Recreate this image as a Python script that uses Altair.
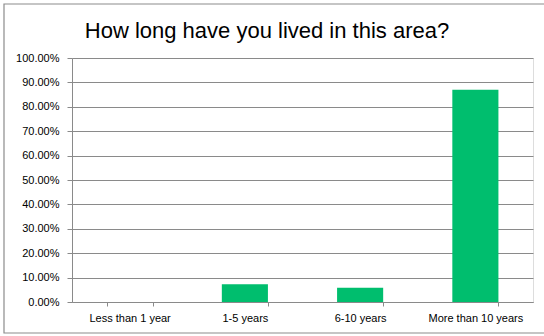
import altair as alt
import pandas as pd

categories = ["Less than 1 year", "1-5 years", "6-10 years", "More than 10 years"]
shares = [0.0, 0.0725, 0.058, 0.8696]
y_ticks = [0.0, 0.1, 0.2, 0.3, 0.4, 0.5, 0.6, 0.7, 0.8, 0.9, 1.0]
title_text = "How long have you lived in this area?"

df = pd.DataFrame({"category": categories, "share": shares})

FONT = "Liberation Sans"
GRID = "#8a8a8a"

bars = alt.Chart(df).mark_bar(color="#00BE6E").encode(
    x=alt.X(
        "category:N",
        sort=categories,
        title=None,
        scale=alt.Scale(paddingInner=0.6, paddingOuter=0.3),
        axis=alt.Axis(
            labelAngle=0,
            labelFont=FONT,
            labelFontSize=11,
            labelColor="#000000",
            labelPadding=6,
            tickBand="extent",
            tickSize=4,
            tickColor=GRID,
            domainColor=GRID,
            grid=False,
        ),
    ),
    y=alt.Y(
        "share:Q",
        title=None,
        scale=alt.Scale(domain=[0, 1], nice=False),
        axis=alt.Axis(
            values=y_ticks,
            format=".2%",
            labelFont=FONT,
            labelFontSize=11,
            labelColor="#000000",
            labelPadding=8,
            tickSize=5,
            tickColor=GRID,
            domainColor=GRID,
            gridColor=GRID,
            gridWidth=1,
        ),
    ),
)

one = pd.DataFrame({"a": [0]})

frame = alt.Chart(one).mark_rect(
    fill=None, stroke="#8c8c8c", strokeWidth=1.2, clip=False
).encode(
    x=alt.value(-68), x2=alt.value(490), y=alt.value(-54), y2=alt.value(275)
)

title = alt.Chart(one).mark_text(
    font=FONT, fontSize=22, color="#000000", align="center", baseline="alphabetic"
).encode(
    x=alt.value(195), y=alt.value(-20), text=alt.value(title_text)
)

chart = alt.layer(frame, bars, title).properties(
    width=461,
    height=244,
    autosize=alt.AutoSizeParams(type="none"),
    padding={"left": 72, "top": 58, "right": 11, "bottom": 34},
).configure_view(stroke=None).configure(background="white")

chart.save("out.html", embed_options={"renderer": "svg", "actions": False})
